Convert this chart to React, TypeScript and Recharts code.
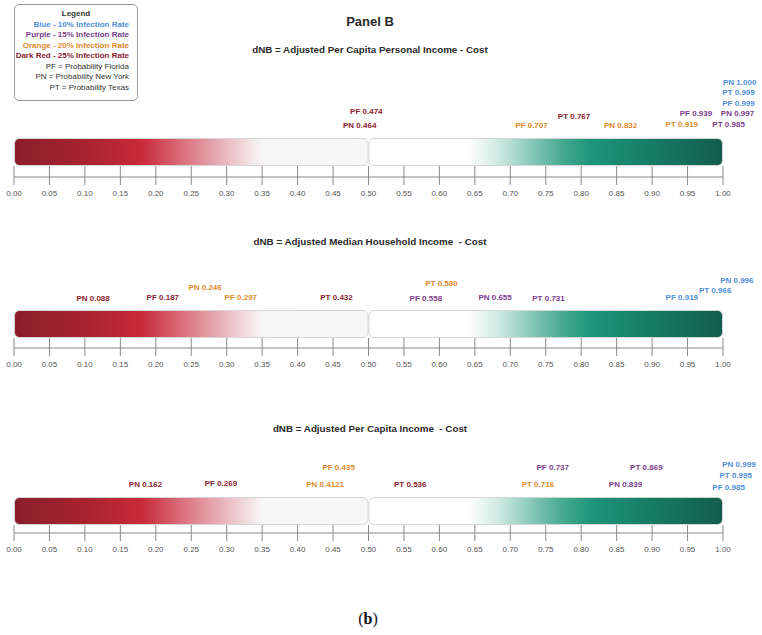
import React from "react";
import {
  ComposedChart,
  XAxis,
  YAxis,
  Scatter,
  ReferenceArea,
} from "recharts";

// infection-rate series, label colours
const RATES = [
  { key: "blue", name: "Blue - 10% Infection Rate", color: "#4f8fdc" },
  { key: "purple", name: "Purple - 15% Infection Rate", color: "#7b3c8c" },
  { key: "orange", name: "Orange - 20% Infection Rate", color: "#e08a2e" },
  { key: "darkred", name: "Dark Red - 25% Infection Rate", color: "#8c2232" },
];

const STATES = ["PF", "PN", "PT"];
const STATE_NAMES = [
  "PF = Probability Florida",
  "PN = Probability New York",
  "PT = Probability Texas",
];

const TICKS = [
  0, 0.05, 0.1, 0.15, 0.2, 0.25, 0.3, 0.35, 0.4, 0.45, 0.5, 0.55, 0.6, 0.65,
  0.7, 0.75, 0.8, 0.85, 0.9, 0.95, 1,
];

// values per rate, ordered PF, PN, PT
// Panel 1: Adjusted Per Capita Personal Income
const P1_BLUE = [0.999, 1.0, 0.999];
const P1_PURPLE = [0.939, 0.997, 0.985];
const P1_ORANGE = [0.707, 0.832, 0.919];
const P1_DARKRED = [0.474, 0.464, 0.767];

// Panel 2: Adjusted Median Household Income
const P2_BLUE = [0.919, 0.996, 0.966];
const P2_PURPLE = [0.558, 0.655, 0.731];
const P2_ORANGE = [0.297, 0.246, 0.58];
const P2_DARKRED = [0.187, 0.088, 0.432];

// Panel 3: Adjusted Per Capita Income
const P3_BLUE = [0.985, 0.999, 0.995];
const P3_PURPLE = [0.737, 0.839, 0.869];
const P3_ORANGE = [0.435, 0.4121, 0.716];
const P3_DARKRED = [0.269, 0.162, 0.536];

// label lift above the bar (px), same order as the values
const P1_LIFT = { blue: [35, 56, 46], purple: [25, 25, 14], orange: [13, 13, 14], darkred: [27, 13, 22] };
const P2_LIFT = { blue: [13, 30, 20], purple: [12, 13, 12], orange: [13, 23, 27], darkred: [13, 12, 13] };
const P3_LIFT = { blue: [10, 33, 22], purple: [30, 13, 30], orange: [30, 13, 13], darkred: [14, 13, 13] };

const FONT = "'Liberation Sans', Arial, sans-serif";

const fmt = (v: number) => {
  const s = String(v);
  const dec = s.includes(".") ? s.split(".")[1].length : 0;
  return dec < 3 ? v.toFixed(3) : s;
};

interface PanelProps {
  id: string;
  top: number;
  marginTop: number;
  barH: number;
  gap: number;
  axisH: number;
  values: Record<string, number[]>;
  lifts: Record<string, number[]>;
}

function Panel({ id, top, marginTop, barH, gap, axisH, values, lifts }: PanelProps) {
  const height = marginTop + barH + gap + axisH;

  const tick = (props: any) => {
    const { x, y, payload } = props;
    return (
      <g>
        <line x1={x} x2={x} y1={y - gap} y2={y + 8} stroke="#8a8a8a" strokeWidth={1} />
        <text x={x} y={y + 19} textAnchor="middle" fontSize={8} fill="#555" fontFamily={FONT}>
          {Number(payload.value).toFixed(2)}
        </text>
      </g>
    );
  };

  const half = (grad: string) => (props: any) => {
    const { x, y, width } = props;
    return (
      <rect
        x={x + 0.5}
        y={y + 0.5}
        width={width - 1}
        height={barH - 1}
        rx={5}
        ry={5}
        fill={`url(#${grad})`}
        stroke="#d6d6d6"
        strokeWidth={1}
      />
    );
  };

  return (
    <div style={{ position: "absolute", left: 0, top }}>
      <ComposedChart
        width={762}
        height={height}
        margin={{ top: marginTop, right: 39, bottom: 0, left: 14 }}
      >
        <defs>
          <linearGradient id={`${id}-l`} x1="0" y1="0" x2="1" y2="0">
            <stop offset="0%" stopColor="#8a1e2b" />
            <stop offset="20%" stopColor="#a8232f" />
            <stop offset="36%" stopColor="#c92a39" />
            <stop offset="48%" stopColor="#db7380" />
            <stop offset="60%" stopColor="#ebbac1" />
            <stop offset="70%" stopColor="#f6f6f6" />
            <stop offset="100%" stopColor="#f7f7f7" />
          </linearGradient>
          <linearGradient id={`${id}-r`} x1="0" y1="0" x2="1" y2="0">
            <stop offset="0%" stopColor="#ffffff" />
            <stop offset="28%" stopColor="#ffffff" />
            <stop offset="36%" stopColor="#d3ebe4" />
            <stop offset="46%" stopColor="#87c8b7" />
            <stop offset="55%" stopColor="#44a88e" />
            <stop offset="63%" stopColor="#1c957a" />
            <stop offset="80%" stopColor="#177b64" />
            <stop offset="100%" stopColor="#125d4c" />
          </linearGradient>
        </defs>
        <XAxis
          type="number"
          dataKey="value"
          domain={[0, 1]}
          ticks={TICKS}
          interval={0}
          tickLine={false}
          tickSize={0}
          tickMargin={0}
          axisLine={{ stroke: "#8a8a8a" }}
          height={axisH}
          tick={tick}
        />
        <YAxis type="number" dataKey="top" domain={[0, 1]} hide />
        <ReferenceArea x1={0} x2={0.5} shape={half(`${id}-l`)} ifOverflow="visible" />
        <ReferenceArea x1={0.5} x2={1} shape={half(`${id}-r`)} ifOverflow="visible" />
        {RATES.map((r) => (
          <Scatter
            key={r.key}
            name={r.name}
            isAnimationActive={false}
            data={STATES.map((s, i) => ({
              state: s,
              value: values[r.key][i],
              top: 1,
              lift: lifts[r.key][i],
            }))}
            shape={(p: any) => (
              <text
                x={p.cx}
                y={p.cy - p.payload.lift + 3}
                fontSize={8}
                fontWeight="bold"
                fill={r.color}
                fontFamily={FONT}
              >
                {`${p.payload.state} ${fmt(p.payload.value)}`}
              </text>
            )}
          />
        ))}
      </ComposedChart>
    </div>
  );
}

const titleStyle = (centerY: number, size: number): React.CSSProperties => ({
  position: "absolute",
  left: 0,
  width: 740,
  top: centerY - 8,
  height: 16,
  lineHeight: "16px",
  textAlign: "center",
  fontFamily: FONT,
  fontWeight: "bold",
  fontSize: size,
  color: "#2a2a2a",
  whiteSpace: "pre",
});

export default function App() {
  return (
    <div
      style={{
        position: "absolute",
        left: 0,
        top: 0,
        width: 762,
        height: 635,
        background: "#fff",
        overflow: "hidden",
      }}
    >
      <div style={titleStyle(22, 13)}>Panel B</div>
      <div style={titleStyle(50, 9.8)}>dNB = Adjusted Per Capita Personal Income - Cost</div>
      <div style={titleStyle(242, 9.8)}>dNB = Adjusted Median Household Income  - Cost</div>
      <div style={titleStyle(429, 9.8)}>dNB = Adjusted Per Capita Income  - Cost</div>

      <Panel
        id="p1"
        top={60}
        marginTop={78}
        barH={28}
        gap={11}
        axisH={33}
        values={{ blue: P1_BLUE, purple: P1_PURPLE, orange: P1_ORANGE, darkred: P1_DARKRED }}
        lifts={P1_LIFT}
      />
      <Panel
        id="p2"
        top={262}
        marginTop={48}
        barH={28}
        gap={10}
        axisH={30}
        values={{ blue: P2_BLUE, purple: P2_PURPLE, orange: P2_ORANGE, darkred: P2_DARKRED }}
        lifts={P2_LIFT}
      />
      <Panel
        id="p3"
        top={450}
        marginTop={47}
        barH={28}
        gap={8}
        axisH={30}
        values={{ blue: P3_BLUE, purple: P3_PURPLE, orange: P3_ORANGE, darkred: P3_DARKRED }}
        lifts={P3_LIFT}
      />

      {/* legend box */}
      <div
        style={{
          position: "absolute",
          left: 14,
          top: 4,
          width: 122,
          height: 91,
          border: "1px solid #999",
          borderRadius: 5,
          boxSizing: "content-box",
          fontFamily: FONT,
          fontSize: 8,
          lineHeight: "10.5px",
          paddingTop: 4,
          whiteSpace: "nowrap",
        }}
      >
        <div style={{ textAlign: "center", fontWeight: "bold", color: "#333" }}>Legend</div>
        {RATES.map((r) => (
          <div key={r.key} style={{ textAlign: "right", paddingRight: 8, fontWeight: "bold", color: r.color }}>
            {r.name}
          </div>
        ))}
        {STATE_NAMES.map((s) => (
          <div key={s} style={{ textAlign: "right", paddingRight: 8, color: "#333" }}>
            {s}
          </div>
        ))}
      </div>

      <div
        style={{
          position: "absolute",
          left: 0,
          width: 736,
          top: 609,
          lineHeight: "20px",
          textAlign: "center",
          fontFamily: "'Liberation Serif', serif",
          fontSize: 16,
          color: "#111",
        }}
      >
        (<b>b</b>)
      </div>
    </div>
  );
}
